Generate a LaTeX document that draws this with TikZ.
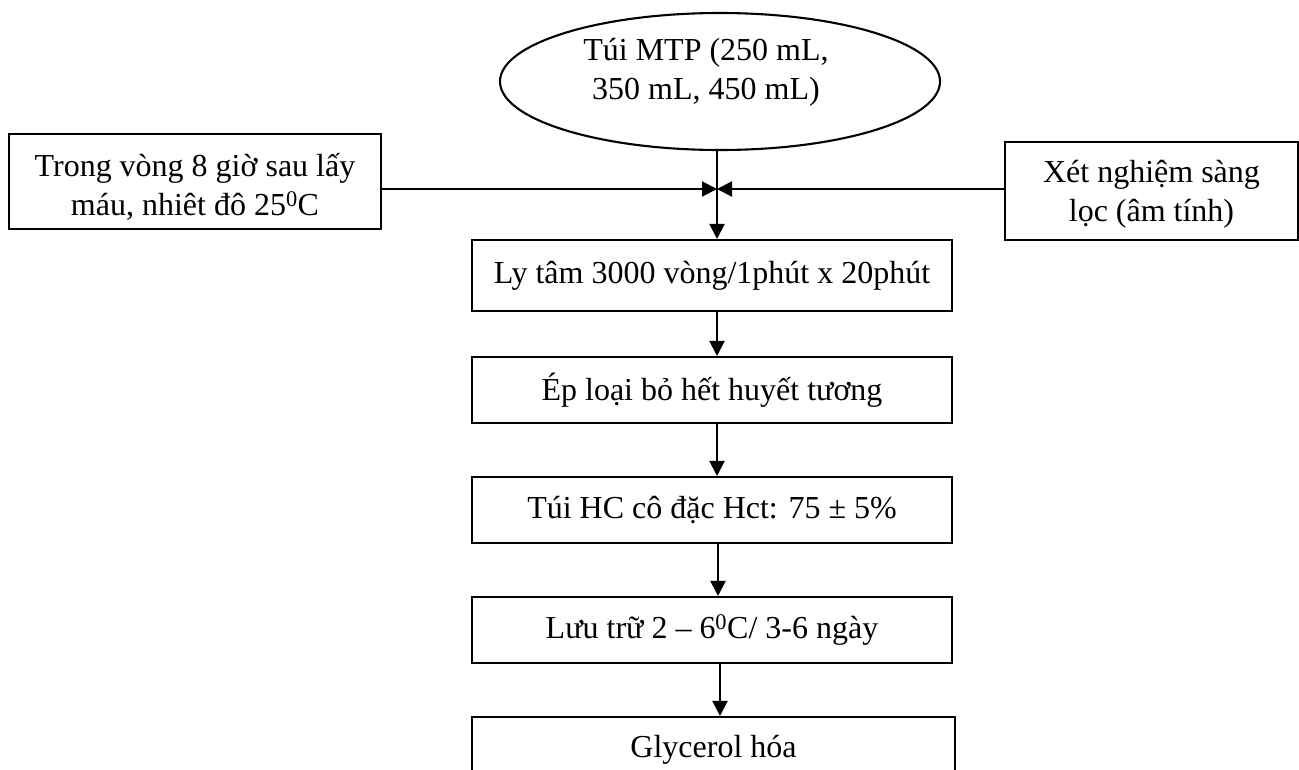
\documentclass[tikz,border=0pt]{standalone}
\usepackage{fontspec}
\setmainfont{Liberation Serif}
\usetikzlibrary{shapes.geometric,arrows.meta}

\tikzset{
  base/.style={line width=2.1pt, draw=black},
  stepbox/.style={base, rectangle, inner sep=0pt, align=center,
    font=\fontsize{32}{39}\selectfont},
  frame/.style={base, rectangle, inner sep=0pt},
  oval/.style={base, ellipse, inner sep=0pt},
  txt/.style={inner sep=0pt, align=center, font=\fontsize{32}{39}\selectfont},
  flow/.style={line width=2.1pt, -{Triangle[length=15pt,width=15pt]}},
}

\begin{document}
\begin{tikzpicture}[x=1pt, y=-1pt]
  \useasboundingbox (0,0) rectangle (1299,769);

  % source bag
  \node[oval, minimum width=440pt, minimum height=137pt] (e) at (720,81.5) {};
  \node[txt] (et) at (706,72) {Túi MTP (250 mL,\\350 mL, 450 mL)};

  % side conditions
  \node[frame, minimum width=372pt, minimum height=95pt] (L) at (195,181.5) {};
  \node[txt] (Lt) at (195,187)
    {Trong vòng 8 giờ sau lấy\\máu, nhiêt đô 25\textsuperscript{0}C};
  \node[frame, minimum width=293pt, minimum height=98pt] (R) at (1151.5,191) {};
  \node[txt] (Rt) at (1151.5,194) {Xét nghiệm sàng\\lọc (âm tính)};

  % processing steps
  \node[stepbox, minimum width=480pt, minimum height=71pt] (s1) at (712,275.5)
    {Ly tâm 3000 vòng/1phút x 20phút};
  \node[stepbox, minimum width=480pt, minimum height=66pt] (s2) at (712,390)
    {Ép loại bỏ hết huyết tương};
  \node[stepbox, minimum width=480pt, minimum height=66pt] (s3) at (712,510)
    {Túi HC cô đặc Hct: 75 ± 5\%};
  \node[stepbox, minimum width=480pt, minimum height=66pt] (s4) at (712,630)
    {Lưu trữ 2 – 6\textsuperscript{0}C/ 3-6 ngày};
  \node[stepbox, minimum width=483pt, minimum height=66pt] (s5) at (713.5,750)
    {Glycerol hóa};

  % junction of the side inputs on the main line
  \coordinate (mid) at (717,189);
  \coordinate (ax) at (717,0);
  \coordinate (bx) at (718,0);
  \coordinate (cx) at (720,0);

  \draw[flow] (L.east |- mid) -- (mid);
  \draw[flow] (R.west |- mid) -- (mid);
  \draw[flow] (e.south -| ax) -- (s1.north -| ax);
  \draw[flow] (s1.south -| ax) -- (s2.north -| ax);
  \draw[flow] (s2.south -| ax) -- (s3.north -| ax);
  \draw[flow] (s3.south -| bx) -- (s4.north -| bx);
  \draw[flow] (s4.south -| cx) -- (s5.north -| cx);
\end{tikzpicture}
\end{document}
